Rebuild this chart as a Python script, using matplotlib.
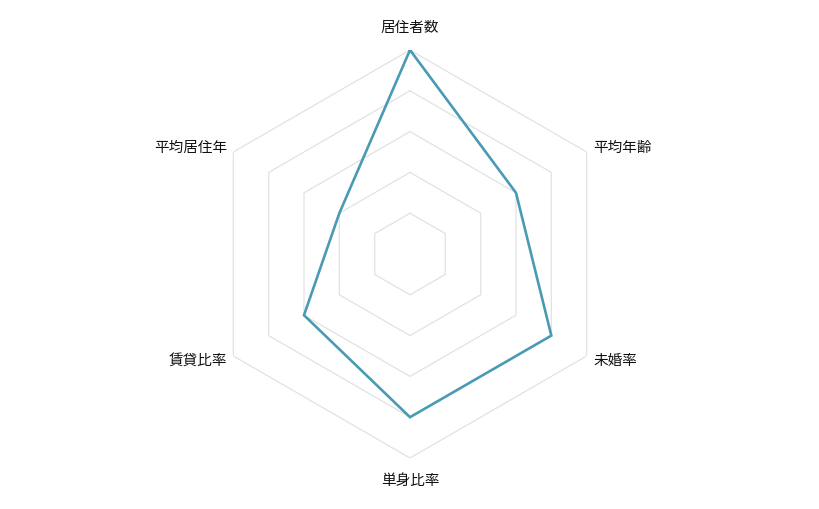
import numpy as np
import matplotlib
matplotlib.use("Agg")
import matplotlib.pyplot as plt

plt.rcParams['font.family'] = ['Noto Sans CJK JP', 'DejaVu Sans']

categories = ['居住者数', '平均年齢', '未婚率', '単身比率', '賃貸比率', '平均居住年']
values = [5, 3, 4, 4, 3, 2]
levels = [1, 2, 3, 4, 5]

fig = plt.figure(figsize=(8.2, 5.1), dpi=100)
ax = fig.add_axes([0.2512, 0.1, 0.4976, 0.8], projection='polar')
ax.set_theta_zero_location('N')
ax.set_theta_direction(-1)
ax.set_ylim(0, 5)
ax.grid(False)
ax.spines['polar'].set_visible(False)
ax.set_xticks([])
ax.set_yticks([])
ax.patch.set_alpha(0)

n = len(categories)
angles = np.linspace(0, 2 * np.pi, n, endpoint=False)
closed = np.concatenate([angles, angles[:1]])

for lv in levels:
    ax.plot(closed, [lv] * (n + 1), color='#e2e2e2', lw=0.9, zorder=1)

ax.plot(closed, values + values[:1], color='#4a9ab4', lw=1.9, zorder=3,
        solid_joinstyle='miter')

offsets = [(0, 23, 'center'), (7, 5, 'left'), (7, -4, 'left'),
           (0, -22, 'center'), (-6, -4, 'right'), (-6, 5, 'right')]
for ang, lab, (dx, dy, ha) in zip(angles, categories, offsets):
    ax.annotate(lab, xy=(ang, 5), xytext=(dx * 0.72, dy * 0.72),
                textcoords='offset points', ha=ha, va='center',
                fontsize=10.5, color='#111111', annotation_clip=False)

fig.savefig('out.png', dpi=100, facecolor='white')
